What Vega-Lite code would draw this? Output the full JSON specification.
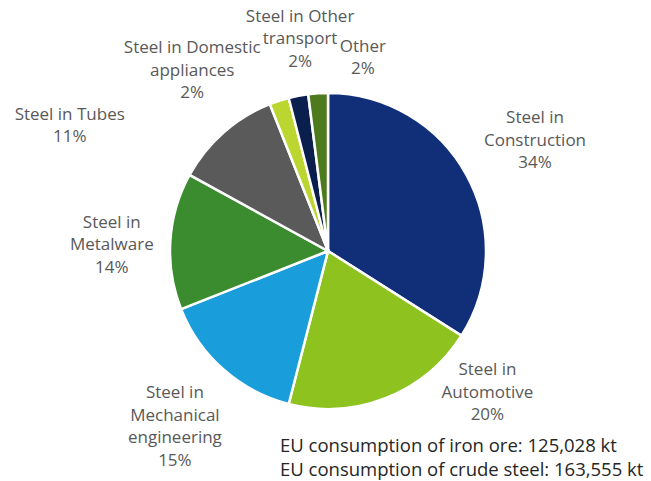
{
  "$schema": "https://vega.github.io/schema/vega-lite/v6.json",
  "width": 646,
  "height": 460,
  "autosize": {"type": "none"},
  "padding": {"left": 5, "top": 21, "right": 0, "bottom": 0},
  "background": "white",
  "config": {"view": {"stroke": null}},
  "title": {
    "text": ["EU consumption of iron ore: 125,028 kt", "EU consumption of crude steel: 163,555 kt"],
    "orient": "bottom",
    "anchor": "start",
    "frame": "group",
    "dx": 275,
    "offset": -95,
    "font": "Open Sans",
    "fontSize": 18.5,
    "fontWeight": "normal",
    "color": "#262626",
    "lineHeight": 24
  },
  "data": {
    "values": [
      {"cat": "Construction", "label": "Steel in\nConstruction\n34%", "value": 34, "order": 1},
      {"cat": "Automotive", "label": "Steel in\nAutomotive\n20%", "value": 20, "order": 2},
      {"cat": "Mechanical engineering", "label": "Steel in\nMechanical\nengineering\n15%", "value": 15, "order": 3},
      {"cat": "Metalware", "label": "Steel in\nMetalware\n14%", "value": 14, "order": 4},
      {"cat": "Tubes", "label": "Steel in Tubes\n11%", "value": 11, "order": 5},
      {"cat": "Domestic appliances", "label": "Steel in Domestic\nappliances\n2%", "value": 2, "order": 6},
      {"cat": "Other transport", "label": "Steel in Other\ntransport\n2%", "value": 2, "order": 7},
      {"cat": "Other", "label": "Other\n2%", "value": 2, "order": 8}
    ]
  },
  "encoding": {
    "theta": {"field": "value", "type": "quantitative", "stack": true},
    "order": {"field": "order", "type": "quantitative"}
  },
  "layer": [
    {
      "mark": {"type": "arc", "outerRadius": 158, "stroke": "white", "strokeWidth": 2.5},
      "encoding": {
        "color": {
          "field": "cat",
          "type": "nominal",
          "legend": null,
          "scale": {
            "domain": ["Construction", "Automotive", "Mechanical engineering", "Metalware", "Tubes", "Domestic appliances", "Other transport", "Other"],
            "range": ["#102f78", "#8dc21f", "#1a9ddb", "#3b8c2f", "#5a5a5a", "#bcd631", "#0a1f4d", "#4e7a1e"]
          }
        }
      }
    },
    {
      "mark": {"type": "text", "radius": 246, "thetaOffset": -0.068, "font": "Open Sans", "fontSize": 17, "fill": "#595959", "lineBreak": "\n", "lineHeight": 22.5, "align": "center", "baseline": "middle"},
      "encoding": {"text": {"condition": {"test": "datum.cat === 'Construction'", "field": "label", "type": "nominal"}, "value": ""}}
    },
    {
      "mark": {"type": "text", "radius": 199, "thetaOffset": -0.552, "font": "Open Sans", "fontSize": 17, "fill": "#595959", "lineBreak": "\n", "lineHeight": 22.5, "align": "center", "baseline": "middle"},
      "encoding": {"text": {"condition": {"test": "datum.cat === 'Automotive'", "field": "label", "type": "nominal"}, "value": ""}}
    },
    {
      "mark": {"type": "text", "radius": 209, "thetaOffset": 0.0995, "font": "Open Sans", "fontSize": 17, "fill": "#595959", "lineBreak": "\n", "lineHeight": 22.5, "align": "center", "baseline": "middle"},
      "encoding": {"text": {"condition": {"test": "datum.cat === 'Mechanical engineering'", "field": "label", "type": "nominal"}, "value": ""}}
    },
    {
      "mark": {"type": "text", "radius": 218, "thetaOffset": 0.066, "font": "Open Sans", "fontSize": 17, "fill": "#595959", "lineBreak": "\n", "lineHeight": 22.5, "align": "center", "baseline": "middle"},
      "encoding": {"text": {"condition": {"test": "datum.cat === 'Metalware'", "field": "label", "type": "nominal"}, "value": ""}}
    },
    {
      "mark": {"type": "text", "radius": 292, "thetaOffset": -0.363, "font": "Open Sans", "fontSize": 17, "fill": "#595959", "lineBreak": "\n", "lineHeight": 22.5, "align": "center", "baseline": "middle"},
      "encoding": {"text": {"condition": {"test": "datum.cat === 'Tubes'", "field": "label", "type": "nominal"}, "value": ""}}
    },
    {
      "mark": {"type": "text", "radius": 244, "thetaOffset": -0.276, "font": "Open Sans", "fontSize": 17, "fill": "#595959", "lineBreak": "\n", "lineHeight": 22.5, "align": "center", "baseline": "middle"},
      "encoding": {"text": {"condition": {"test": "datum.cat === 'Domestic appliances'", "field": "label", "type": "nominal"}, "value": ""}}
    },
    {
      "mark": {"type": "text", "radius": 236, "thetaOffset": 0.07, "font": "Open Sans", "fontSize": 17, "fill": "#595959", "lineBreak": "\n", "lineHeight": 22.5, "align": "center", "baseline": "middle"},
      "encoding": {"text": {"condition": {"test": "datum.cat === 'Other transport'", "field": "label", "type": "nominal"}, "value": ""}}
    },
    {
      "mark": {"type": "text", "radius": 207, "thetaOffset": 0.232, "font": "Open Sans", "fontSize": 17, "fill": "#595959", "lineBreak": "\n", "lineHeight": 22.5, "align": "center", "baseline": "middle"},
      "encoding": {"text": {"condition": {"test": "datum.cat === 'Other'", "field": "label", "type": "nominal"}, "value": ""}}
    }
  ]
}
